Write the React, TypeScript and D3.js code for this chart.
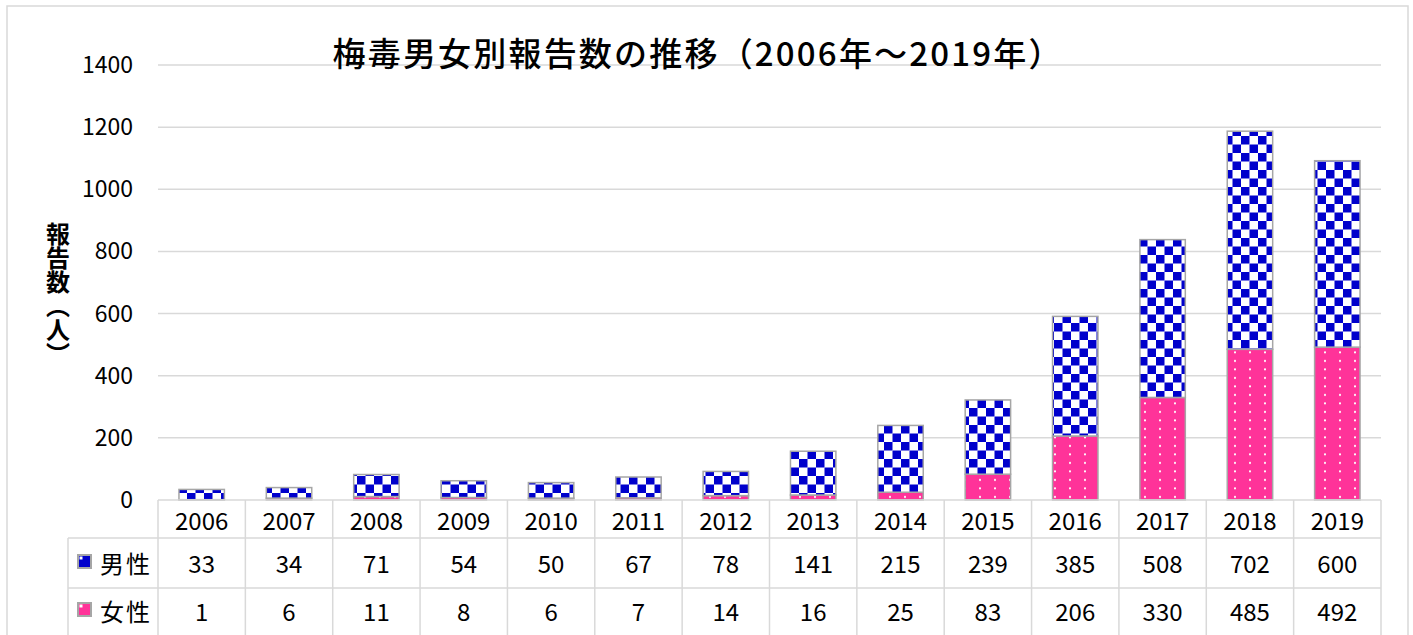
import { useLayoutEffect, useRef } from "react";
import * as d3 from "d3";

const years = ["2006", "2007", "2008", "2009", "2010", "2011", "2012", "2013", "2014", "2015", "2016", "2017", "2018", "2019"];
const male = [33, 34, 71, 54, 50, 67, 78, 141, 215, 239, 385, 508, 702, 600];
const female = [1, 6, 11, 8, 6, 7, 14, 16, 25, 83, 206, 330, 485, 492];
const yTicks = [0, 200, 400, 600, 800, 1000, 1200, 1400];
const seriesNames = ["男性", "女性"];
const title = "梅毒男女別報告数の推移（2006年～2019年）";
const yTitle = "報告数（人）";

const W = 1413;
const H = 635;
const FONT = "'Noto Sans CJK JP', 'Noto Sans', sans-serif";
const GRID = "#d9d9d9";

function render(svgEl: SVGSVGElement) {
    const svg = d3.select(svgEl);
    svg.selectAll("*").remove();

    const x = d3.scaleBand<string>().domain(years).range([158, 1381]).paddingInner(0).paddingOuter(0);
    const y = d3.scaleLinear().domain([0, 1400]).range([500, 65]);
    const barW = x.bandwidth() * 0.52;

    const defs = svg.append("defs");
    const c = 8.5;
    const chk = defs.append("pattern").attr("id", "chk").attr("patternUnits", "userSpaceOnUse")
        .attr("width", c * 2).attr("height", c * 2);
    chk.append("rect").attr("width", c * 2).attr("height", c * 2).attr("fill", "#fff");
    chk.append("rect").attr("width", c).attr("height", c).attr("fill", "#0000cc");
    chk.append("rect").attr("x", c).attr("y", c).attr("width", c).attr("height", c).attr("fill", "#0000cc");

    const dots = defs.append("pattern").attr("id", "dots").attr("patternUnits", "userSpaceOnUse")
        .attr("width", 15).attr("height", 8.5);
    dots.append("rect").attr("width", 15).attr("height", 8.5).attr("fill", "#ff3399");
    dots.append("rect").attr("x", 4).attr("y", 3).attr("width", 2).attr("height", 1.8).attr("fill", "#fff");

    // outer border
    svg.append("rect").attr("x", 7).attr("y", 6).attr("width", 1401).attr("height", 660)
        .attr("fill", "#fff").attr("stroke", GRID).attr("stroke-width", 1.5);

    // gridlines
    svg.append("g").selectAll("line").data(yTicks.filter(d => d > 0)).enter().append("line")
        .attr("x1", 158).attr("x2", 1381)
        .attr("y1", d => y(d)).attr("y2", d => y(d))
        .attr("stroke", GRID).attr("stroke-width", 1.5);

    // y tick labels
    svg.append("g").selectAll("text").data(yTicks).enter().append("text")
        .attr("x", 133).attr("y", d => y(d) - 2)
        .attr("text-anchor", "end").attr("dominant-baseline", "central")
        .attr("font-family", FONT).attr("font-size", 23).attr("fill", "#000")
        .text(d => d);

    // stacked bars
    const stack = d3.stack<number>().keys(["f", "m"])
        .value((i, k) => (k === "f" ? female[i] : male[i]));
    const series = stack(d3.range(years.length));
    const fills = ["url(#dots)", "url(#chk)"];
    series.forEach((s, si) => {
        svg.append("g").selectAll("rect").data(s).enter().append("rect")
            .attr("x", (d, i) => x(years[i])! + (x.bandwidth() - barW) / 2)
            .attr("y", d => y(d[1]))
            .attr("width", barW)
            .attr("height", d => Math.max(0, y(d[0]) - y(d[1])))
            .attr("fill", fills[si])
            .attr("stroke", "#a6a6a6").attr("stroke-width", 1.5);
    });

    // data table
    const tbl = svg.append("g").attr("stroke", GRID).attr("stroke-width", 1.5);
    const rowY = [500, 538, 588, 640];
    tbl.append("line").attr("x1", 158).attr("x2", 1381).attr("y1", rowY[0]).attr("y2", rowY[0]);
    tbl.selectAll("line.h").data(rowY.slice(1)).enter().append("line")
        .attr("x1", 68).attr("x2", 1381).attr("y1", d => d).attr("y2", d => d);
    tbl.selectAll("line.v").data(d3.range(years.length + 1)).enter().append("line")
        .attr("x1", i => 158 + i * x.bandwidth()).attr("x2", i => 158 + i * x.bandwidth())
        .attr("y1", rowY[0]).attr("y2", rowY[3]);
    tbl.append("line").attr("x1", 68).attr("x2", 68).attr("y1", rowY[1]).attr("y2", rowY[3]);

    const txt = svg.append("g").attr("font-family", FONT).attr("font-size", 24).attr("fill", "#000")
        .attr("text-anchor", "middle").attr("dominant-baseline", "central");
    txt.selectAll("text.yr").data(years).enter().append("text")
        .attr("x", d => x(d)! + x.bandwidth() / 2).attr("y", 519).text(d => d);
    [male, female].forEach((vals, ri) => {
        const cy = [562, 610][ri];
        txt.append("g").selectAll("text").data(vals).enter().append("text")
            .attr("x", (d, i) => x(years[i])! + x.bandwidth() / 2).attr("y", cy).text(d => d);
        svg.append("rect").attr("x", 78).attr("y", cy - 7).attr("width", 13).attr("height", 13)
            .attr("fill", ri === 0 ? "#0000cc" : "#ff3399").attr("stroke", "#a6a6a6").attr("stroke-width", 2);
        svg.append("rect").attr("x", 79.5).attr("y", cy - 5.5).attr("width", 3).attr("height", 3).attr("fill", "#fff");
        svg.append("text").attr("x", 100).attr("y", cy)
            .attr("font-family", FONT).attr("font-size", 24).attr("dominant-baseline", "central")
            .attr("letter-spacing", 2).text(seriesNames[ri]);
    });

    // title
    svg.append("text").attr("x", 697).attr("y", 52)
        .attr("text-anchor", "middle").attr("dominant-baseline", "central")
        .attr("font-family", FONT).attr("font-size", 33).attr("font-weight", 500)
        .attr("textLength", 729).attr("lengthAdjust", "spacing")
        .text(title);

    // y axis title (vertical)
    svg.append("text").attr("x", 58).attr("y", 222)
        .attr("writing-mode", "vertical-rl")
        .attr("font-family", FONT).attr("font-size", 24).attr("font-weight", 700)
        .text(yTitle);
}

function App() {
    const svgRef = useRef<SVGSVGElement | null>(null);
    useLayoutEffect(() => {
        if (svgRef.current) render(svgRef.current);
    }, []);
    return (
        <svg ref={svgRef} width={W} height={H}
            style={{ position: "absolute", left: 0, top: 0, background: "#fff" }} />
    );
}

export default App;
